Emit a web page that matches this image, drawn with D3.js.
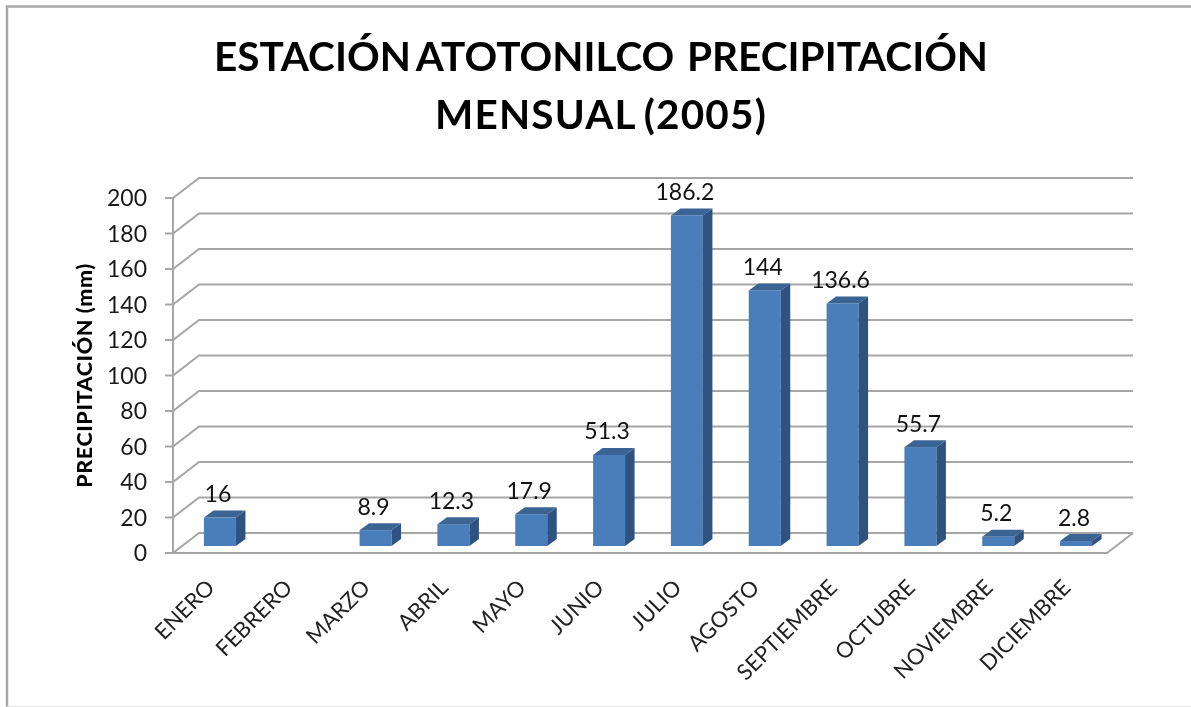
<!DOCTYPE html>
<html>
<head>
<meta charset="utf-8">
<script src="https://cdn.jsdelivr.net/npm/d3@7/dist/d3.min.js"></script>
<style>
html,body{margin:0;padding:0;background:#fff;overflow:hidden}
svg{display:block;filter:blur(0.45px)}
text{font-family:Lato,"Open Sans",sans-serif}
</style>
</head>
<body>
<svg class="chart" width="1191" height="707"></svg>
<script>
var months = ["ENERO","FEBRERO","MARZO","ABRIL","MAYO","JUNIO","JULIO","AGOSTO","SEPTIEMBRE","OCTUBRE","NOVIEMBRE","DICIEMBRE"];
var rain = [16,null,8.9,12.3,17.9,51.3,186.2,144,136.6,55.7,5.2,2.8];
var labels = ["16","","8.9","12.3","17.9","51.3","186.2","144","136.6","55.7","5.2","2.8"];
var yTicks = [0,20,40,60,80,100,120,140,160,180,200];
var titleLines = ["ESTACIÓN ATOTONILCO  PRECIPITACIÓN","MENSUAL (2005)"];

var svg = d3.select(".chart");
var depthX = 26, depthY = -20;
var barDx = 9.5, barDy = -7;

var x = d3.scaleBand().domain(months).range([173,1107]).paddingInner(0).paddingOuter(0);
var y = d3.scaleLinear().domain([0,200]).range([553,198]);
var gridColor = "#a6a6a6";

// chart frame: only top and left are dark in the picture
svg.append("path").attr("d","M1191,6.5H7V707").attr("fill","none")
  .attr("stroke","#a8a8a8").attr("stroke-width",2.5);
svg.append("path").attr("d","M7,706.5H1191").attr("fill","none")
  .attr("stroke","#e4e4e4").attr("stroke-width",1);

svg.append("g").selectAll("text").data(titleLines).enter().append("text")
  .attr("x",601).attr("y",function(d,i){return 70.5+i*58;})
  .attr("text-anchor","middle").attr("font-size",40.5).attr("font-weight",700)
  .attr("fill","#000").attr("xml:space","preserve")
  .attr("word-spacing",function(d,i){return i==0 ? -3.5 : -3;})
  .attr("letter-spacing",function(d,i){return i==0 ? 0 : 1.2;})
  .text(function(d){return d;});

// back wall gridlines and the slanted side wall
var grid = svg.append("g").attr("stroke",gridColor).attr("stroke-width",2).attr("fill","none");
grid.selectAll("path").data(yTicks).enter().append("path")
  .attr("d",function(d){
    return "M"+(x.range()[0]-8)+","+y(d)+"H"+x.range()[0]+"l"+depthX+","+depthY+"H"+(x.range()[1]+depthX);
  });
grid.append("path").attr("d","M173,198V553");
grid.append("path").attr("d","M173,553H1107l26,-20");

// y axis labels
svg.append("g").selectAll("text").data(yTicks).enter().append("text")
  .attr("x",147).attr("y",function(d){return y(d)+8;})
  .attr("text-anchor","end").attr("font-size",23).attr("fill","#1a1a1a")
  .text(function(d){return d;});

svg.append("text").attr("transform","translate(92,375.5) rotate(-90)")
  .attr("text-anchor","middle").attr("font-size",21.5).attr("font-weight",900).attr("fill","#000")
  .attr("letter-spacing",0.6)
  .text("PRECIPITACIÓN (mm)");

// bars
var barW = 32, base = 546;
var h = function(v){return y(0)-y(v);};
var bars = svg.append("g").selectAll("g").data(months.map(function(m,i){return {m:m,v:rain[i],l:labels[i]};}).filter(function(d){return d.v!==null;}))
  .enter().append("g");
var bx = function(d){return x(d.m)+x.bandwidth()/2-barW/2+8;};

bars.append("rect").attr("x",bx).attr("y",function(d){return base-h(d.v);})
  .attr("width",barW).attr("height",function(d){return h(d.v);}).attr("fill","#4a7ebb");
bars.append("path").attr("fill","#2f5380").attr("d",function(d){
  var l = bx(d)+barW, t = base-h(d.v);
  return "M"+l+","+t+"l"+barDx+","+barDy+"V"+(base+barDy)+"l"+(-barDx)+","+(-barDy)+"Z";
});
bars.append("path").attr("fill","#3a6494").attr("d",function(d){
  var l = bx(d), t = base-h(d.v);
  return "M"+l+","+t+"l"+barDx+","+barDy+"h"+barW+"l"+(-barDx)+","+(-barDy)+"Z";
});
bars.append("text").attr("x",function(d){return bx(d)+barW/2-2;})
  .attr("y",function(d){return base-h(d.v)-15.5;})
  .attr("text-anchor","middle").attr("font-size",23).attr("fill","#111")
  .text(function(d){return d.l;});

// month labels
svg.append("g").selectAll("text").data(months).enter().append("text")
  .attr("transform",function(d){return "translate("+(x(d)+x.bandwidth()/2+4)+",589) rotate(-45)";})
  .attr("text-anchor","end").attr("font-size",22).attr("fill","#222")
  .text(function(d){return d;});
</script>
</body>
</html>
